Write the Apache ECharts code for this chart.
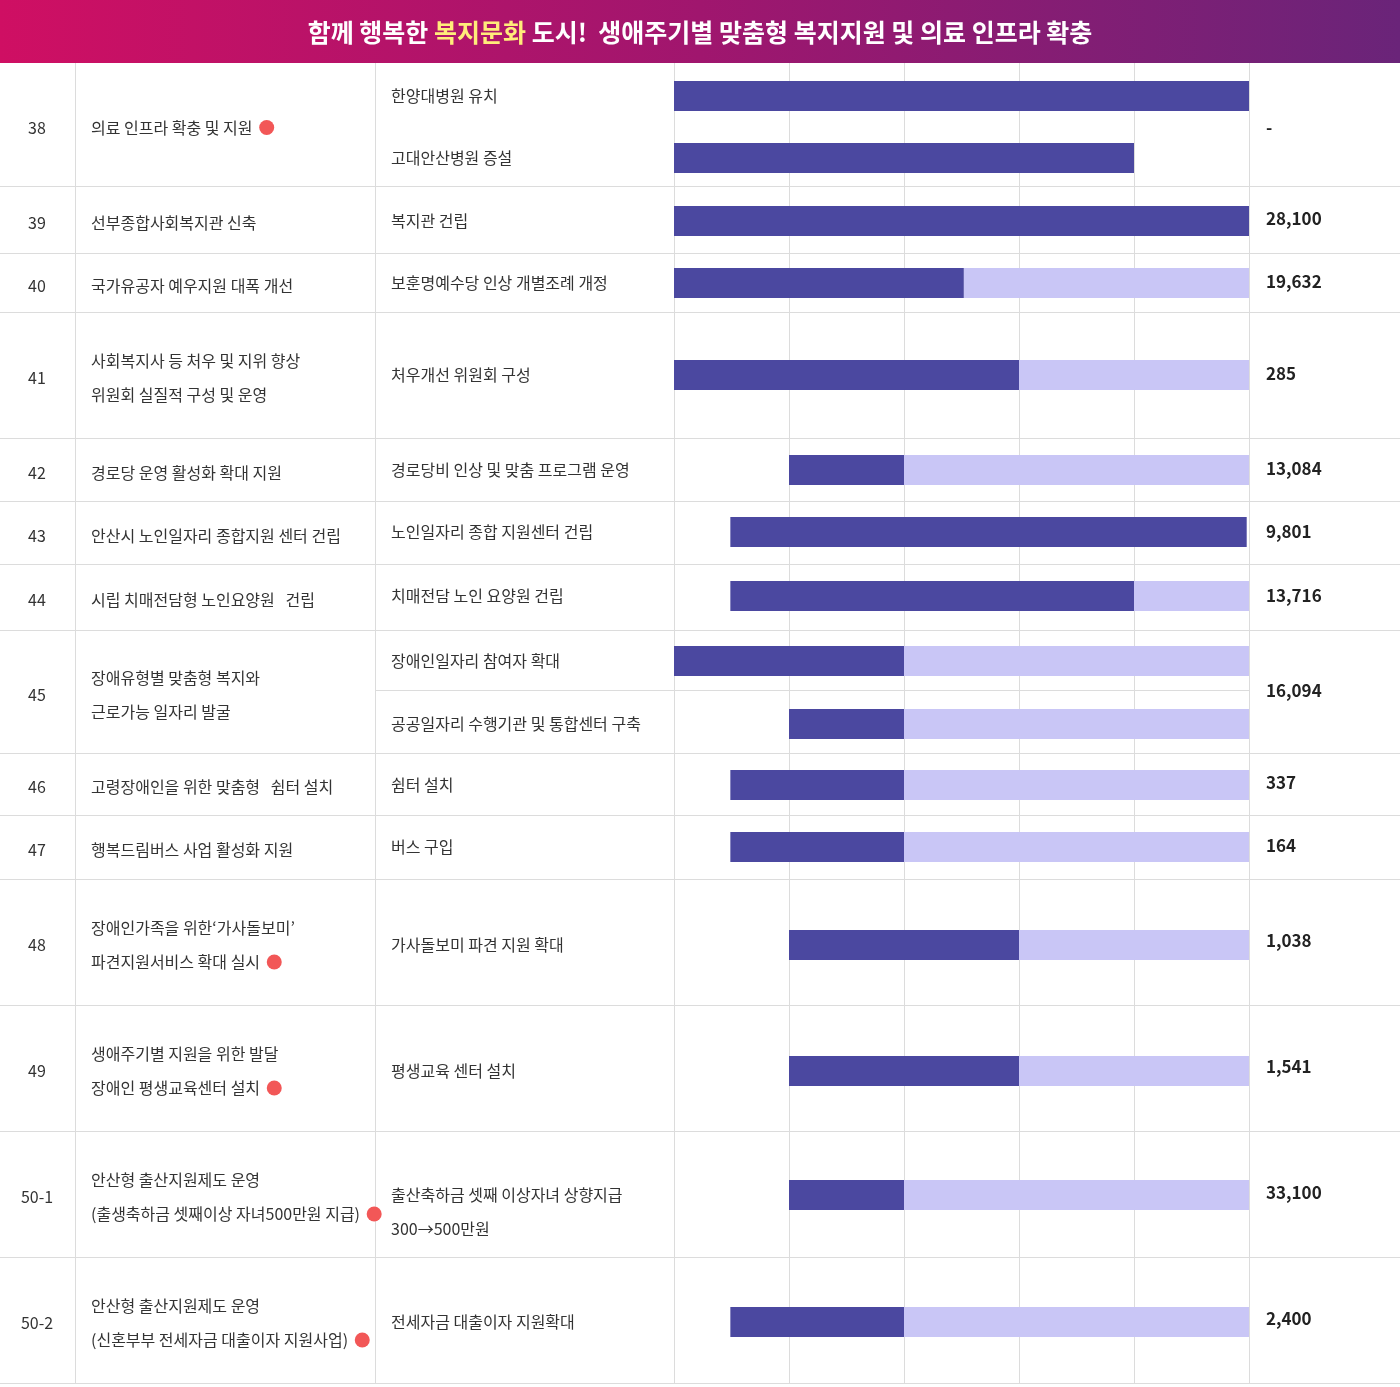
<!DOCTYPE html>
<html><head><meta charset="utf-8">
<script src="https://cdn.jsdelivr.net/npm/echarts@6/dist/echarts.min.js"></script>
<style>html,body{margin:0;padding:0;background:#fff}#main{width:1400px;height:1387px}</style>
</head><body><div id="main"></div>
<script>
var FONT = '"Noto Sans CJK KR", "Noto Sans", sans-serif';

// table rows
var rowNos = ['38','39','40','41','42','43','44','45','46','47','48','49','50-1','50-2'];
var rowNames = [
  ['의료 인프라 확충 및 지원'],
  ['선부종합사회복지관 신축'],
  ['국가유공자 예우지원 대폭 개선'],
  ['사회복지사 등 처우 및 지위 향상', '위원회 실질적 구성 및 운영'],
  ['경로당 운영 활성화 확대 지원'],
  ['안산시 노인일자리 종합지원 센터 건립'],
  ['시립 치매전담형 노인요양원   건립'],
  ['장애유형별 맞춤형 복지와', '근로가능 일자리 발굴'],
  ['고령장애인을 위한 맞춤형   쉼터 설치'],
  ['행복드림버스 사업 활성화 지원'],
  ['장애인가족을 위한‘가사돌보미’', '파견지원서비스 확대 실시'],
  ['생애주기별 지원을 위한 발달', '장애인 평생교육센터 설치'],
  ['안산형 출산지원제도 운영', '(출생축하금 셋째이상 자녀500만원 지급)'],
  ['안산형 출산지원제도 운영', '(신혼부부 전세자금 대출이자 지원사업)']
];
var rowDot = [true,false,false,false,false,false,false,false,false,false,true,true,true,true];
var rowValues = ['-','28,100','19,632','285','13,084','9,801','13,716','16,094','337','164','1,038','1,541','33,100','2,400'];

// sub items (row index, label lines)
var itemRow = [0,0,1,2,3,4,5,6,7,7,8,9,10,11,12,13];
var itemNames = [
  ['한양대병원 유치'], ['고대안산병원 증설'], ['복지관 건립'], ['보훈명예수당 인상 개별조례 개정'],
  ['처우개선 위원회 구성'], ['경로당비 인상 및 맞춤 프로그램 운영'], ['노인일자리 종합 지원센터 건립'],
  ['치매전담 노인 요양원 건립'], ['장애인일자리 참여자 확대'], ['공공일자리 수행기관 및 통합센터 구축'],
  ['쉼터 설치'], ['버스 구입'], ['가사돌보미 파견 지원 확대'], ['평생교육 센터 설치'],
  ['출산축하금 셋째 이상자녀 상향지급', '300→500만원'], ['전세자금 대출이자 지원확대']
];
// schedule in grid-column units (0..5): dark = done/plan, light = continuation
var darkStart = [0,0,0,0,0,1,0.49,0.49,0,1,0.49,0.49,1,1,1,0.49];
var darkEnd   = [5,4,5,2.52,3,2,4.98,4,2,2,2,2,3,3,2,2];
var lightEnd  = [null,null,null,5,5,5,null,5,5,5,5,5,5,5,5,5];

// layout (pixel rows)
var rowEdges = [63,186,253,312,438,501,564,630,753,815,879,1005,1131,1257,1383];
var itemY = [96,158,221,283,375,470,532,596,661,724,785,847,945,1071,1195,1322];
var subLines = [690];

var darkData = [], lightData = [];
for (var i = 0; i < itemY.length; i++) {
  darkData.push([darkStart[i], darkEnd[i], itemY[i]]);
  if (lightEnd[i] != null) lightData.push([darkEnd[i], lightEnd[i], itemY[i]]);
}
function barRender(color) {
  return function (params, api) {
    var a = api.coord([api.value(0), api.value(2)]);
    var b = api.coord([api.value(1), api.value(2)]);
    return { type: 'rect', shape: { x: a[0], y: a[1] - 15, width: b[0] - a[0], height: 30 },
      style: { fill: color } };
  };
}

var graphics = [];
graphics.push({ type: 'rect', shape: { x: 0, y: 0, width: 1400, height: 63 },
  style: { fill: new echarts.graphic.LinearGradient(0, 0, 1, 0, [
    { offset: 0, color: '#cf0f63' }, { offset: 0.5, color: '#a0166e' }, { offset: 1, color: '#6a2479' }]) } });
graphics.push({ type: 'text', x: 700, y: 32, style: {
  text: '{w|함께 행복한 }{y|복지문화}{w| 도시!  생애주기별 맞춤형 복지지원 및 의료 인프라 확충}',
  align: 'center', verticalAlign: 'middle',
  rich: { w: { fill: '#fff', fontSize: 25, fontWeight: 'bold', fontFamily: FONT },
          y: { fill: '#ffec7a', fontSize: 25, fontWeight: 'bold', fontFamily: FONT } } } });
rowEdges.forEach(function (y, k) {
  if (k === 0) return;
  graphics.push({ type: 'line', shape: { x1: 0, y1: y + 0.5, x2: 1400, y2: y + 0.5 }, style: { stroke: '#dcdcdc', lineWidth: 1 } });
});
subLines.forEach(function (y) {
  graphics.push({ type: 'line', shape: { x1: 375, y1: y + 0.5, x2: 1249, y2: y + 0.5 }, style: { stroke: '#dcdcdc', lineWidth: 1 } });
});
[75, 375].forEach(function (x) {
  graphics.push({ type: 'line', shape: { x1: x + 0.5, y1: 63, x2: x + 0.5, y2: 1383 }, style: { stroke: '#dcdcdc', lineWidth: 1 } });
});
var base = { fill: '#333', fontSize: 16, fontFamily: FONT };
var rich = { t: base, d: { backgroundColor: '#f25757', width: 15, height: 15, borderRadius: 8 } };
function linesText(lines, dot) {
  return lines.map(function (l, j) {
    return '{t|' + l + '}' + (dot && j === lines.length - 1 ? '  {d|}' : '');
  }).join('\n');
}
for (var r = 0; r < rowNos.length; r++) {
  var cy = (rowEdges[r] + rowEdges[r + 1]) / 2 + 3;
  graphics.push({ type: 'text', x: 37, y: cy, style: { text: rowNos[r], align: 'center', verticalAlign: 'middle', fill: '#333', fontSize: 16, fontFamily: FONT } });
  graphics.push({ type: 'text', x: 91, y: cy, style: { text: linesText(rowNames[r], rowDot[r]), align: 'left', verticalAlign: 'middle', lineHeight: 34, rich: rich } });
  var vy = r === 0 ? cy : cy - 4;
  graphics.push({ type: 'text', x: 1266, y: vy, style: { text: rowValues[r], align: 'left', verticalAlign: 'middle', fill: '#222', fontSize: 17, fontWeight: 'bold', fontFamily: FONT } });
}
for (var s = 0; s < itemNames.length; s++) {
  var iy = itemNames[s].length > 1 ? itemY[s] + 17 : itemY[s];
  graphics.push({ type: 'text', x: 391, y: iy, style: { text: itemNames[s].join('\n'), align: 'left', verticalAlign: 'middle', lineHeight: 34, fill: '#333', fontSize: 16, fontFamily: FONT } });
}

var chart = echarts.init(document.getElementById('main'));
chart.setOption({
  animation: false,
  grid: { left: 674, width: 575, top: 63, height: 1320 },
  xAxis: { type: 'value', min: 0, max: 5, interval: 1, axisLabel: { show: false }, axisLine: { show: false },
    axisTick: { show: false }, splitLine: { show: true, lineStyle: { color: '#dcdcdc' } } },
  yAxis: { type: 'value', min: 63, max: 1383, inverse: true, show: false, splitLine: { show: false } },
  graphic: graphics,
  series: [
    { type: 'custom', renderItem: barRender('#c9c6f6'), data: lightData, encode: { x: [0, 1], y: 2 } },
    { type: 'custom', renderItem: barRender('#4b48a0'), data: darkData, encode: { x: [0, 1], y: 2 } }
  ]
});
</script></body></html>
